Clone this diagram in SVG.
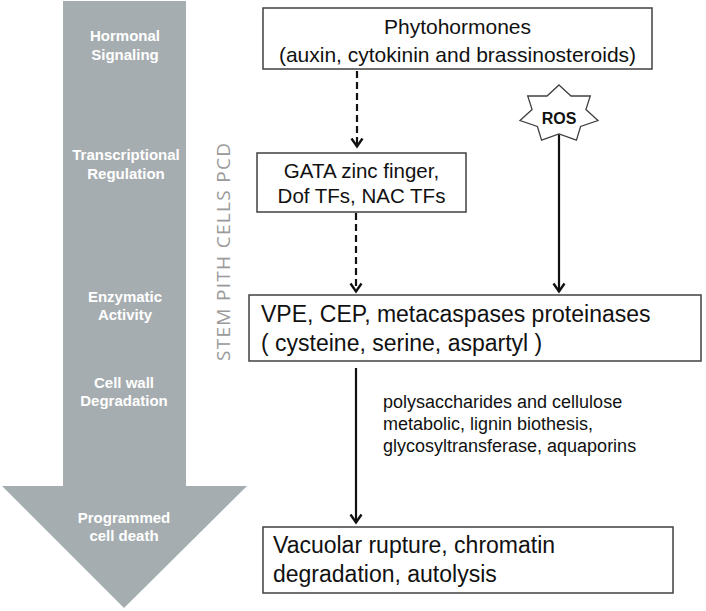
<svg xmlns="http://www.w3.org/2000/svg" width="706" height="611" viewBox="0 0 706 611">
<defs>
<style>
.box{fill:#ffffff;stroke:#404040;stroke-width:1.5}
.t{font-family:"Liberation Sans",Arial,sans-serif;fill:#111111}
.lbl{font-family:"Liberation Sans",Arial,sans-serif;font-weight:bold;font-size:15px;fill:#ffffff;text-anchor:middle}
.conn{stroke:#111111;stroke-width:2.2;fill:none}
.dash{stroke-dasharray:7,4}
</style>
<marker id="ah" viewBox="0 0 13 14" refX="11.5" refY="7" markerWidth="13" markerHeight="14" markerUnits="userSpaceOnUse" orient="auto">
<path d="M3,1.5 L11,7 L3,12.5" fill="none" stroke="#111111" stroke-width="2.4"/>
</marker>
</defs>
<rect width="706" height="611" fill="#ffffff"/>
<g id="stage-arrow">
<polygon points="63,1 186,1 186,486 247,486 124,608 2,486 63,486" fill="#a6adb0"/>
<text class="lbl" x="125" y="41">Hormonal</text>
<text class="lbl" x="125" y="60">Signaling</text>
<text class="lbl" x="126" y="160">Transcriptional</text>
<text class="lbl" x="126" y="179">Regulation</text>
<text class="lbl" x="125" y="302">Enzymatic</text>
<text class="lbl" x="125" y="320">Activity</text>
<text class="lbl" x="124" y="388">Cell wall</text>
<text class="lbl" x="124" y="406">Degradation</text>
<text class="lbl" x="124" y="523">Programmed</text>
<text class="lbl" x="124" y="541">cell death</text>
</g>
<g id="side-title">
<text transform="translate(230,361) rotate(-90)" x="0" y="0" font-family="'Open Sans','Liberation Sans',sans-serif" font-size="19" fill="#9a9a9a" textLength="218" lengthAdjust="spacing">STEM PITH CELLS PCD</text>
</g>
<g id="connectors">
<line class="conn dash" x1="357" y1="71" x2="357" y2="147" marker-end="url(#ah)"/>
<line class="conn dash" x1="356" y1="213" x2="356" y2="292" marker-end="url(#ah)"/>
<line class="conn" x1="559" y1="133" x2="559" y2="292" marker-end="url(#ah)"/>
<line class="conn" x1="356" y1="368" x2="356" y2="523" marker-end="url(#ah)"/>
<text class="t" font-size="18" x="383" y="408">polysaccharides and cellulose</text>
<text class="t" font-size="18" x="383" y="430">metabolic, lignin biothesis,</text>
<text class="t" font-size="18" x="383" y="452">glycosyltransferase, aquaporins</text>
</g>
<g id="phytohormones">
<rect class="box" x="263" y="8" width="389" height="61"/>
<text class="t" font-size="21" x="457.5" y="34" text-anchor="middle">Phytohormones</text>
<text class="t" font-size="21" x="457.5" y="62" text-anchor="middle">(auxin, cytokinin and brassinosteroids)</text>
</g>
<g id="ros">
<polygon points="559,85 571,96 590.3,95.9 585.9,109.5 598,120.5 580.6,126.5 576.4,140.1 559,134 541.6,140.1 537.4,126.5 520,120.5 532.1,109.5 527.7,95.9 547,96" fill="#ffffff" stroke="#404040" stroke-width="1.3"/>
<text class="t" font-size="16" font-weight="bold" x="559" y="124" text-anchor="middle">ROS</text>
</g>
<g id="tfs">
<rect class="box" x="257" y="153" width="209" height="59"/>
<text class="t" font-size="20.5" x="361.5" y="178" text-anchor="middle">GATA zinc finger,</text>
<text class="t" font-size="20.5" x="361.5" y="203" text-anchor="middle">Dof TFs, NAC TFs</text>
</g>
<g id="proteinases">
<rect class="box" x="249" y="295" width="452" height="66"/>
<text class="t" font-size="23" x="261" y="322">VPE, CEP, metacaspases proteinases</text>
<text class="t" font-size="23" x="261" y="351">( cysteine, serine, aspartyl )</text>
</g>
<g id="outcome">
<rect class="box" x="263" y="527" width="410" height="66"/>
<text class="t" font-size="23" x="273" y="553">Vacuolar rupture, chromatin</text>
<text class="t" font-size="23" x="273" y="582">degradation, autolysis</text>
</g>
</svg>
